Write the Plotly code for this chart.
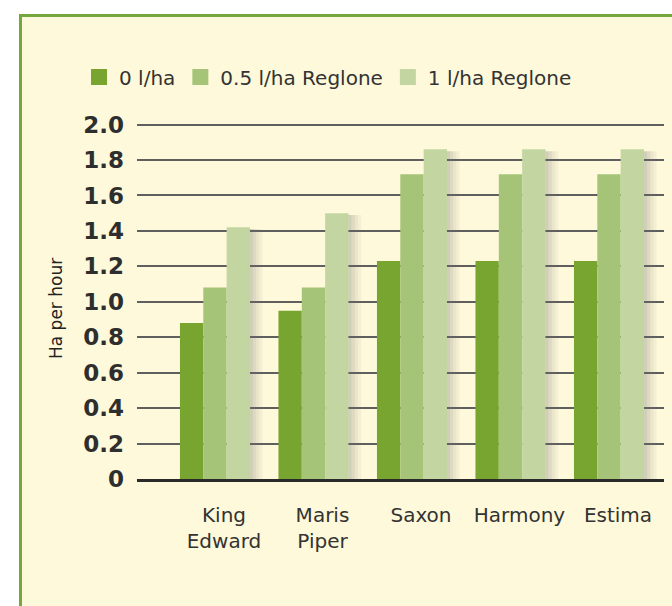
import plotly.graph_objects as go

categories = ["King Edward", "Maris Piper", "Saxon", "Harmony", "Estima"]
tick_labels = ["King<br>Edward", "Maris<br>Piper", "Saxon", "Harmony", "Estima"]
series_names = ["0 l/ha", "0.5 l/ha Reglone", "1 l/ha Reglone"]
values_0 = [0.88, 0.95, 1.23, 1.23, 1.23]
values_05 = [1.08, 1.08, 1.72, 1.72, 1.72]
values_1 = [1.42, 1.50, 1.86, 1.86, 1.86]
y_ticks = [0, 0.2, 0.4, 0.6, 0.8, 1.0, 1.2, 1.4, 1.6, 1.8, 2.0]
y_tick_labels = ["0", "0.2", "0.4", "0.6", "0.8", "1.0", "1.2", "1.4", "1.6", "1.8", "2.0"]
y_title = "Ha per hour"

series_values = [values_0, values_05, values_1]
bar_colors = ["#78A52F", "#A5C478", "#C3D6A1"]
bar_width = 0.237
bar_offsets = [-0.447, -0.210, 0.027]

FONT = "DejaVu Sans"
TEXT = "#333333"
CREAM = "#FEF9DA"

fig = go.Figure()
for name, vals, col, off in zip(series_names, series_values, bar_colors, bar_offsets):
    fig.add_trace(go.Bar(
        x=categories, y=vals, name=name, marker=dict(color=col, line=dict(width=0)),
        width=bar_width, offset=off, showlegend=False,
    ))
# legend entries with larger square swatches
for name, col in zip(series_names, bar_colors):
    fig.add_trace(go.Scatter(
        x=[None], y=[None], mode="markers", name=name,
        marker=dict(symbol="square", size=22, color=col),
    ))

L, R, T, B = 137, 664, 121, 479
pw, ph = R - L, B - T
shapes = []
# frame
shapes.append(dict(type="rect", xref="paper", yref="paper",
                   x0=(20.5 - L) / pw, x1=1.06, y0=-0.45, y1=(B - 15.5) / ph,
                   fillcolor=CREAM, line=dict(color="#74A83E", width=3), layer="below"))
# soft shadows to the right of each group
group_right = bar_offsets[-1] + bar_width
for i, cat in enumerate(categories):
    top = max(v[i] for v in series_values)
    for k, op in enumerate([0.30, 0.22, 0.14, 0.07]):
        shapes.append(dict(type="rect", xref="x", yref="y",
                           x0=i + group_right + k * 0.032, x1=i + group_right + (k + 1) * 0.032,
                           y0=0, y1=top - 0.01,
                           fillcolor=f"rgba(110,110,110,{op})", line=dict(width=0), layer="above"))

fig.update_layout(
    width=672, height=606,
    margin=dict(l=L, r=672 - R, t=T, b=606 - B),
    paper_bgcolor="white", plot_bgcolor=CREAM,
    barmode="overlay",
    shapes=shapes,
    font=dict(family=FONT, color=TEXT),
    legend=dict(orientation="h", x=-0.110, xanchor="left", y=(B - 77) / ph, yanchor="middle",
                font=dict(family=FONT, size=20, color=TEXT), bgcolor="rgba(0,0,0,0)",
                itemsizing="trace", tracegroupgap=0),
    xaxis=dict(
        range=[-0.883, 4.467], tickmode="array",
        tickvals=categories, ticktext=tick_labels,
        tickfont=dict(family=FONT, size=20, color=TEXT),
        showgrid=False, showline=True, linecolor="#2a2a2a", linewidth=3,
        ticks="", ticklabelstandoff=16,
    ),
    yaxis=dict(
        range=[0, 2.02], tickmode="array", tickvals=y_ticks, ticktext=y_tick_labels,
        tickfont=dict(family=FONT, size=23, color="#2e2e2e", weight="bold"),
        showgrid=True, gridcolor="#5f5f5f", gridwidth=1.6,
        zeroline=False, showline=False, ticks="", ticklabelstandoff=12,
    ),
    annotations=[dict(text=y_title, xref="paper", yref="paper",
                      x=(56 - L) / pw, y=(B - 309) / ph, xanchor="center", yanchor="middle",
                      textangle=-90, showarrow=False,
                      font=dict(family=FONT, size=17, color="#222222"))],
)

fig.write_html("out.html")
